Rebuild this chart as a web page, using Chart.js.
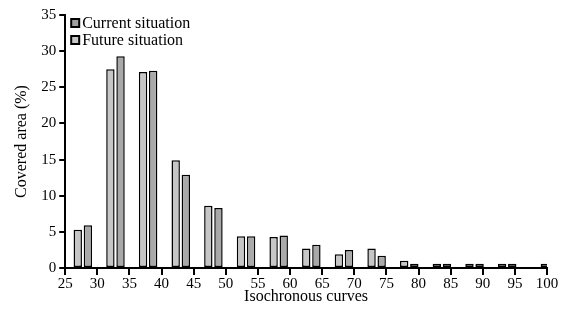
<!DOCTYPE html>
<html>
<head>
<meta charset="utf-8">
<script src="https://cdn.jsdelivr.net/npm/chart.js@4.4.1/dist/chart.umd.min.js"></script>
<style>
html,body{margin:0;padding:0;background:#fff;}
#wrap{width:564px;height:313px;}
</style>
</head>
<body>
<div id="wrap"><canvas id="c" width="564" height="313"></canvas></div>
<script>
const bins = ['25-30','30-35','35-40','40-45','45-50','50-55','55-60','60-65','65-70','70-75','75-80','80-85','85-90','90-95','95-100'];
const currentValues = [5.3, 27.5, 27.1, 14.9, 8.6, 4.4, 4.3, 2.7, 1.9, 2.7, 1.0, 0.6, 0.6, 0.6, null];
const futureValues  = [5.9, 29.3, 27.3, 12.9, 8.3, 4.4, 4.5, 3.2, 2.5, 1.7, 0.6, 0.6, 0.6, 0.6, 0.6];
const xTickMin = 25, xTickMax = 100, xTickStep = 5;
const yTickMin = 0, yTickMax = 35, yTickStep = 5;
const seriesNames = ['Current situation', 'Future situation'];

const barColors = ['#c6c6c6', '#a9a9a9'];
const legendColors = ['#a0a0a0', '#c8c8c8'];
const FONT = 'Liberation Serif';

// bin index -> point objects for the (hidden) bin axis
const toPoints = vals => vals.map((v, i) => ({ x: i, y: v, bin: bins[i] }));

const legendPlugin = {
  id: 'innerLegend',
  afterDraw(chart) {
    const ctx = chart.ctx, area = chart.chartArea;
    ctx.save();
    chart.data.datasets.forEach((ds, i) => {
      const bx = area.left + 6, by = area.top + 4 + i * 17, s = 8;
      ctx.fillStyle = legendColors[i];
      ctx.fillRect(bx, by, s, s);
      ctx.strokeStyle = '#000';
      ctx.lineWidth = 2;
      ctx.strokeRect(bx, by, s, s);
      ctx.fillStyle = '#000';
      ctx.font = '16px "' + FONT + '"';
      ctx.textBaseline = 'middle';
      ctx.textAlign = 'left';
      ctx.fillText(ds.label, bx + s + 3, by + s / 2 + 0.5);
    });
    ctx.restore();
  }
};

new Chart(document.getElementById('c'), {
  type: 'bar',
  data: {
    datasets: [
      { label: seriesNames[0], data: toPoints(currentValues), backgroundColor: barColors[0], borderColor: '#000', borderWidth: 1.5, borderSkipped: false, xAxisID: 'x' },
      { label: seriesNames[1], data: toPoints(futureValues), backgroundColor: barColors[1], borderColor: '#000', borderWidth: 1.5, borderSkipped: false, xAxisID: 'x' }
    ]
  },
  options: {
    responsive: false,
    animation: false,
    devicePixelRatio: 1,
    categoryPercentage: 0.62,
    barPercentage: 0.83,
    layout: { padding: { top: 15, right: 17, left: 12, bottom: 8 } },
    plugins: { legend: { display: false }, tooltip: { enabled: false } },
    scales: {
      x: { type: 'linear', display: false, offset: false, min: -0.54, max: 14.22 },
      x2: {
        type: 'linear', position: 'bottom', min: xTickMin, max: xTickMax, offset: false,
        ticks: { stepSize: xTickStep, color: '#000', font: { family: FONT, size: 15, lineHeight: 1 }, padding: 2, maxRotation: 0, autoSkip: false },
        grid: { display: true, offset: false, drawOnChartArea: false, drawTicks: true, tickLength: 7, color: '#000', lineWidth: 2 },
        border: { display: true, color: '#000', width: 2 },
        title: { display: true, text: 'Isochronous curves', color: '#000', font: { family: FONT, size: 16, lineHeight: 1 }, padding: { top: -5, bottom: 0 } }
      },
      y: {
        min: yTickMin, max: yTickMax,
        ticks: { stepSize: yTickStep, color: '#000', font: { family: FONT, size: 15 }, padding: 3 },
        grid: { display: true, drawOnChartArea: false, drawTicks: true, tickLength: 6, color: '#000', lineWidth: 2 },
        border: { display: true, color: '#000', width: 2 },
        title: { display: true, text: 'Covered area (%)', color: '#000', font: { family: FONT, size: 16 }, padding: { top: 0, bottom: 7 } }
      }
    }
  },
  plugins: [legendPlugin]
});
</script>
</body>
</html>
